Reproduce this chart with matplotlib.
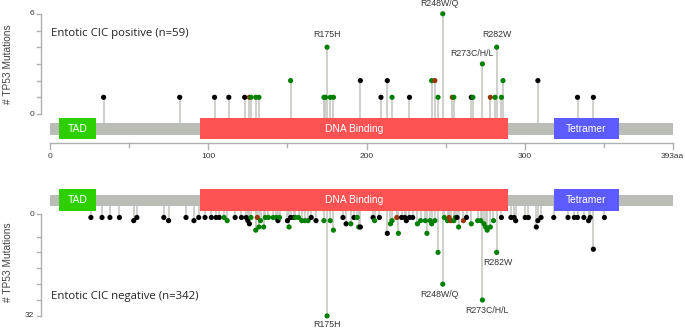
import matplotlib.pyplot as plt
from matplotlib.patches import Rectangle

# ---- data ----
# top panel: Entotic CIC positive
pos_top = [34, 82, 104, 113, 123, 126, 127, 130, 132, 152, 173, 174, 175, 177, 179,
           196, 209, 213, 216, 227, 241, 243, 245, 248, 254, 255, 266, 267, 273,
           278, 281, 282, 285, 286, 308, 333, 343]
cnt_top = [1, 1, 1, 1, 1, 1, 1, 1, 1, 2, 1, 1, 4, 1, 1,
           2, 1, 2, 1, 1, 2, 2, 1, 6, 1, 1, 1, 1, 3,
           1, 1, 4, 1, 2, 2, 1, 1]
typ_top = ['t', 't', 't', 't', 't', 'i', 'm', 'm', 'm', 'm', 'm', 'm', 'm', 'm', 'm',
           't', 't', 't', 'm', 't', 'm', 'i', 'm', 'm', 'i', 'm', 't', 'm', 'm',
           'i', 'm', 'm', 'm', 'm', 't', 't', 't']

# bottom panel: Entotic CIC negative
pos_bot = [26, 33, 38, 44, 53, 55, 72, 75, 86, 91, 94, 98, 102, 105, 107, 110, 112,
           117, 121, 124, 125, 126, 127, 130, 131, 132, 133, 135, 136, 138, 141, 143,
           144, 145, 150, 151, 152, 154, 155, 157, 159, 161, 163, 165, 168, 173, 175,
           177, 179, 185, 187, 190, 192, 194, 195, 196, 204, 205, 208, 213, 215, 216,
           219, 220, 222, 224, 225, 227, 229, 232, 234, 237, 238, 240, 241, 243, 245,
           248, 249, 251, 252, 253, 255, 256, 257, 258, 261, 263, 266, 270, 272, 273,
           274, 275, 276, 278, 280, 282, 285, 291, 293, 294, 300, 302, 307, 308, 310,
           318, 327, 331, 333, 337, 340, 341, 343, 350]
cnt_bot = [1, 1, 1, 1, 2, 1, 1, 2, 1, 2, 1, 1, 1, 1, 1, 1, 2,
           1, 1, 1, 2, 3, 1, 5, 1, 4, 2, 4, 1, 1, 1, 1,
           2, 1, 2, 4, 1, 1, 1, 1, 2, 2, 2, 1, 2, 2, 32,
           2, 5, 1, 3, 3, 1, 1, 4, 4, 1, 2, 1, 6, 3, 2,
           1, 6, 1, 1, 2, 1, 1, 3, 2, 2, 6, 2, 3, 2, 12,
           22, 1, 2, 1, 2, 2, 1, 1, 4, 2, 1, 3, 2, 2, 27,
           3, 4, 5, 4, 2, 12, 1, 1, 1, 2, 1, 1, 4, 2, 1,
           1, 1, 1, 1, 1, 2, 1, 11, 1]
typ_bot = ['t', 't', 't', 't', 't', 't', 't', 't', 't', 't', 't', 't', 't', 't', 't', 'm', 'm',
           't', 't', 't', 't', 't', 'm', 'm', 'i', 'm', 'm', 'm', 'm', 'm', 'm', 'm',
           't', 'm', 't', 'm', 't', 't', 'm', 'm', 'm', 'm', 'm', 't', 't', 'm', 'm',
           'm', 'm', 't', 't', 'm', 't', 'm', 'm', 't', 't', 'm', 't', 't', 'm', 'm',
           'i', 'm', 't', 't', 't', 't', 't', 'm', 'm', 'm', 'm', 'm', 'm', 'm', 'm',
           'm', 'm', 'm', 'i', 'i', 'm', 'm', 't', 'm', 'i', 't', 'm', 'm', 'm', 'm',
           'm', 'm', 'm', 'm', 'm', 'm', 't', 't', 't', 't', 't', 't', 't', 't', 't',
           't', 't', 't', 't', 't', 't', 't', 't', 't']

hot_names = ['R175H', 'R248W/Q', 'R273C/H/L', 'R282W']
hot_pos = [175, 248, 273, 282]

domain_names = ['TAD', 'DNA Binding', 'Tetramer']
domain_start = [6, 95, 318]
domain_end = [29, 289, 359]
domain_colors = ['#2dcf00', '#ff5353', '#5b5bff']
protein_len = 393

type_colors = {'m': '#008000', 't': '#000000', 'i': '#993404'}

# ---- pixel helpers ----
W, H = 685, 328
X0, XS = 49.7, 1.585


def px(p):
    return (p - X0) / XS


def ty(p):
    return (114 - p) / 16.7


def by(p):
    return (p - 214.3) / 3.175


LBL = 'Liberation Sans'
STEM = '#c2c2be'
AXC = '#b0b0b0'
TXT = '#333333'

fig = plt.figure(figsize=(6.85, 3.28), dpi=100)
ax1 = fig.add_axes([0, 0.5, 1, 0.5])
ax2 = fig.add_axes([0, 0, 1, 0.5])
for ax in (ax1, ax2):
    ax.set_axis_off()
    ax.set_xlim(px(0), px(W))
ax1.set_ylim(ty(164), ty(0))
ax2.set_ylim(by(328), by(164))


def draw_domains(ax, f, bar_top, bar_bot, dom_top, dom_bot):
    ax.add_patch(Rectangle((0, f(bar_bot)), protein_len, f(bar_top) - f(bar_bot),
                           color='#babdb6', zorder=2, lw=0))
    for name, s, e, c in zip(domain_names, domain_start, domain_end, domain_colors):
        ax.add_patch(Rectangle((s, f(dom_bot)), e - s, f(dom_top) - f(dom_bot),
                               color=c, zorder=3, lw=0))
        ax.text((s + e) / 2, f((dom_top + dom_bot) / 2), name, color='white',
                ha='center', va='center', fontsize=7.4, family=LBL, zorder=4)


def draw_yaxis(ax, f, lo_px, hi_px, ticks, lo_lab, hi_lab, tick_vals):
    x = px(40.7)
    ax.plot([x, x], [lo_px, hi_px], color=AXC, lw=1, solid_capstyle='butt')
    for t in tick_vals:
        ax.plot([px(37), x], [t, t], color=AXC, lw=1)
    ax.text(px(34), ticks[0], lo_lab, ha='right', va='center', fontsize=6,
            family=LBL, color=TXT)
    ax.text(px(34), ticks[1], hi_lab, ha='right', va='center', fontsize=6,
            family=LBL, color=TXT)


# ---- top panel ----
ax1.vlines(pos_top, ty(125), cnt_top, colors=STEM, lw=1.1, zorder=1)
ax1.scatter(pos_top, cnt_top, s=14, c=[type_colors[t] for t in typ_top],
            linewidths=0, zorder=5)
draw_domains(ax1, ty, 122.7, 135, 118, 139)
draw_yaxis(ax1, ty, 0, 6, (0, 6), '0', '6', range(7))

xa = ty(143.3)
ax1.plot([0, protein_len], [xa, xa], color=AXC, lw=1)
for t in [0, 100, 200, 300, protein_len]:
    ax1.plot([t, t], [xa, ty(149)], color=AXC, lw=1)
for t in [50, 150, 250, 350]:
    ax1.plot([t, t], [xa, ty(146.5)], color=AXC, lw=1)
for t, lab in zip([0, 100, 200, 300, protein_len], ['0', '100', '200', '300', '393aa']):
    ax1.text(t, ty(156), lab, ha='center', va='center', fontsize=6, family=LBL, color=TXT)

top_lab = {175: (0, 12.5, 'center'), 248: (-2, 10.5, 'center'),
           273: (7, 10.5, 'right'), 282: (0, 13, 'center')}
for name, p in zip(hot_names, hot_pos):
    c = cnt_top[pos_top.index(p)]
    dx, dy, ha = top_lab[p]
    ax1.text(p + dx, c + dy / 16.7, name, ha=ha, va='center', fontsize=6.3,
             family=LBL, color=TXT)

ax1.text(px(51.5), ty(33.5), 'Entotic CIC positive (n=59)', ha='left', va='center',
         fontsize=8.2, family='Open Sans', color='#222222')
ax1.text(px(8), ty(64), '# TP53 Mutations', rotation=90, ha='center', va='center',
         fontsize=7.3, family=LBL, color='#444444')

# ---- bottom panel ----
ax2.vlines(pos_bot, by(200), cnt_bot, colors=STEM, lw=1.1, zorder=1)
ax2.scatter(pos_bot, cnt_bot, s=14, c=[type_colors[t] for t in typ_bot],
            linewidths=0, zorder=5)
draw_domains(ax2, by, 194.5, 206, 189.3, 210.7)
draw_yaxis(ax2, by, 0, 32, (0, 32), '0', '32', [0, 7, 12, 17, 22, 27, 32])

bot_lab = {175: (0, 8.5, 'center'), 248: (-2, 10.5, 'center'),
           273: (3, 10, 'center'), 282: (1, 10.5, 'center')}
for name, p in zip(hot_names, hot_pos):
    c = cnt_bot[pos_bot.index(p)]
    dx, dy, ha = bot_lab[p]
    ax2.text(p + dx, c + dy / 3.175, name, ha=ha, va='center', fontsize=6.3,
             family=LBL, color=TXT)

ax2.text(px(51.5), by(296.7), 'Entotic CIC negative (n=342)', ha='left', va='center',
         fontsize=8.2, family='Open Sans', color='#222222')
ax2.text(px(8), by(262), '# TP53 Mutations', rotation=90, ha='center', va='center',
         fontsize=7.3, family=LBL, color='#444444')

fig.savefig('out.png', dpi=100)
